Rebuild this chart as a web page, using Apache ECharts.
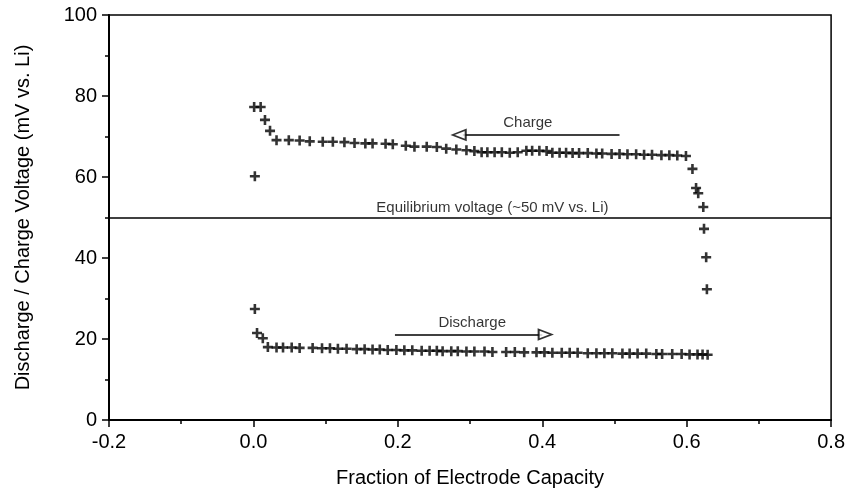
<!DOCTYPE html>
<html><head><meta charset="utf-8">
<script src="https://cdn.jsdelivr.net/npm/echarts@6/dist/echarts.min.js"></script>
<style>html,body{margin:0;padding:0;background:#fff}#c{width:848px;height:494px}</style>
</head><body><div id="c"></div>
<script>
const xTickLabels = ['-0.2','0.0','0.2','0.4','0.6','0.8'];
const yTickLabels = ['0','20','40','60','80','100'];

const chargeX = [0.002, 0.001, 0.010, 0.016, 0.023,
  0.032,0.049,0.064,0.078,0.096,0.110,0.126,0.140,0.155,0.165,0.183,0.193,0.211,0.223,0.240,0.254,0.267,0.281,0.295,0.306,
  0.316,0.324,0.334,0.344,0.355,0.366,0.378,0.386,0.396,0.406,0.414,0.424,0.433,0.442,0.451,0.463,0.475,0.483,0.496,0.507,0.518,0.530,0.541,0.552,0.565,0.576,0.587,0.599,
  0.608,0.613,0.616,0.623,0.624,0.627,0.628];
const chargeY = [60.2, 77.3, 77.3, 74.1, 71.4,
  69.1,69.1,69.0,68.8,68.7,68.7,68.6,68.4,68.3,68.3,68.2,68.1,67.7,67.5,67.5,67.4,67.0,66.8,66.6,66.4,
  66.1,66.1,66.1,66.1,66.0,66.1,66.5,66.5,66.5,66.4,66.0,66.0,66.0,65.9,65.9,65.9,65.8,65.8,65.7,65.7,65.6,65.6,65.5,65.5,65.4,65.4,65.3,65.2,
  62.0,57.3,56.0,52.6,47.2,40.2,32.3];

const dischargeX = [0.002,0.005,0.013,
  0.020,0.032,0.041,0.053,0.064,0.082,0.095,0.106,0.117,0.129,0.143,0.154,0.165,0.175,0.186,0.198,0.209,0.220,0.233,0.244,
  0.254,0.262,0.274,0.283,0.295,0.306,0.320,0.331,0.350,0.362,0.375,0.392,0.403,0.414,0.427,0.438,0.449,0.463,0.475,0.486,
  0.497,0.511,0.521,0.532,0.544,0.558,0.566,0.580,0.593,0.604,0.615,0.622,0.629];
const dischargeY = [27.4,21.5,20.2,
  18.0,17.9,17.9,17.9,17.8,17.8,17.7,17.7,17.6,17.6,17.5,17.5,17.4,17.4,17.3,17.3,17.2,17.2,17.1,17.1,
  17.1,17.0,17.0,17.0,16.9,16.9,16.9,16.8,16.8,16.8,16.7,16.7,16.7,16.6,16.6,16.6,16.6,16.5,16.5,16.5,
  16.5,16.4,16.4,16.4,16.4,16.3,16.3,16.3,16.3,16.2,16.2,16.2,16.1];

const equilibriumVoltage = 50;
const annotationTexts = ['Charge', 'Discharge', 'Equilibrium voltage (~50 mV vs. Li)'];
const annotationAnchors = [[0.380, 73.3], [0.303, 24.0], [0.331, 52.4]];
const chargeArrow = [[0.507, 70.4], [0.290, 70.4]];
const dischargeArrow = [[0.196, 21.1], [0.400, 21.1]];
const arrowHeads = [[0.285, 70.4, 90], [0.404, 21.1, -90]];

const FONT = "'Liberation Sans', Arial, Helvetica, sans-serif";
const plus = 'path://M3.7,0h2.6v3.7h3.7v2.6h-3.7v3.7h-2.6v-3.7h-3.7v-2.6h3.7z';
const zip = (xs, ys) => xs.map((x, i) => [x, ys[i]]);

const chart = echarts.init(document.getElementById('c'), null, {renderer: 'canvas'});
chart.setOption({
  animation: false,
  backgroundColor: '#fff',
  grid: {left: 109, right: 14, top: 15, bottom: 74, show: true, borderColor: '#000', borderWidth: 1.5, containLabel: false},
  xAxis: {
    type: 'value', min: -0.2, max: 0.8, interval: 0.2,
    name: 'Fraction of Electrode Capacity', nameLocation: 'middle', nameGap: 48,
    nameTextStyle: {fontFamily: FONT, fontSize: 20, color: '#000'},
    axisLine: {show: true, onZero: false, lineStyle: {color: '#000', width: 2}},
    axisTick: {show: true, length: 7, lineStyle: {color: '#000', width: 1.5}},
    minorTick: {show: true, splitNumber: 2, length: 4, lineStyle: {color: '#000', width: 1.5}},
    splitLine: {show: false},
    axisLabel: {margin: 12, fontFamily: FONT, fontSize: 20, color: '#000',
      formatter: v => xTickLabels[Math.round((v + 0.2) / 0.2)]}
  },
  yAxis: {
    type: 'value', min: 0, max: 100, interval: 20,
    name: 'Discharge / Charge Voltage (mV vs. Li)', nameLocation: 'middle', nameGap: 76,
    nameTextStyle: {fontFamily: FONT, fontSize: 20, color: '#000'},
    axisLine: {show: true, onZero: false, lineStyle: {color: '#000', width: 2}},
    axisTick: {show: true, length: 7, lineStyle: {color: '#000', width: 1.5}},
    minorTick: {show: true, splitNumber: 2, length: 4, lineStyle: {color: '#000', width: 1.5}},
    splitLine: {show: false},
    axisLabel: {margin: 12, fontFamily: FONT, fontSize: 20, color: '#000',
      formatter: v => yTickLabels[Math.round(v / 20)]}
  },
  series: [
    {type: 'scatter', name: 'Charge', data: zip(chargeX, chargeY), symbol: plus, symbolSize: 10,
     itemStyle: {color: '#000'}, silent: true,
     markLine: {silent: true, symbol: ['none', 'none'], label: {show: false},
       lineStyle: {color: '#000', width: 1.5, type: 'solid'},
       data: [{yAxis: equilibriumVoltage},
              [{coord: chargeArrow[0]}, {coord: chargeArrow[1]}],
              [{coord: dischargeArrow[0]}, {coord: dischargeArrow[1]}]]}},
    {type: 'scatter', name: 'Discharge', data: zip(dischargeX, dischargeY), symbol: plus, symbolSize: 10,
     itemStyle: {color: '#000'}, silent: true},
    {type: 'scatter', name: 'arrowheads', z: 5, silent: true,
     data: arrowHeads.map(a => ({value: [a[0], a[1]], symbolRotate: a[2]})),
     symbol: 'triangle', symbolSize: [10, 13],
     itemStyle: {color: '#fff', borderColor: '#000', borderWidth: 1.8}},
    {type: 'scatter', name: 'labels', silent: true, symbolSize: 0,
     data: annotationAnchors.map((p, i) => ({value: p, name: annotationTexts[i]})),
     label: {show: true, position: 'inside', formatter: '{b}', fontFamily: FONT, fontSize: 15, color: '#000'}}
  ]
});
</script></body></html>
